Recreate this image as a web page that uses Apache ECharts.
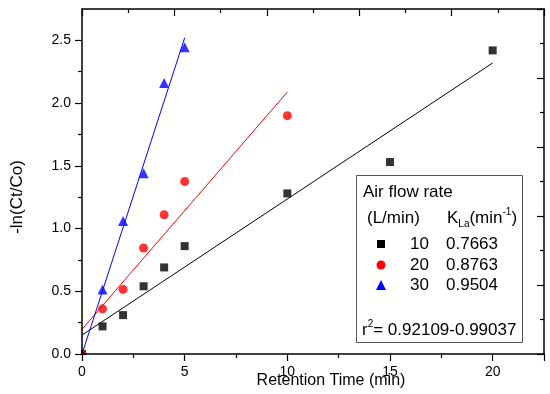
<!DOCTYPE html>
<html><head><meta charset="utf-8">
<script src="https://cdn.jsdelivr.net/npm/echarts@6/dist/echarts.min.js"></script>
<style>html,body{margin:0;padding:0;background:#fff}#c{width:550px;height:394px}</style>
</head><body><div id="c"></div>
<script>
// ---- data ----
const t10 = [0, 1, 2, 3, 4, 5, 10, 15, 20];
const y10 = [0, 0.22, 0.31, 0.54, 0.69, 0.86, 1.28, 1.53, 2.42];
const t20 = [0, 1, 2, 3, 4, 5, 10];
const y20 = [0, 0.36, 0.515, 0.845, 1.11, 1.375, 1.90];
const t30 = [0, 1, 2, 3, 4, 5];
const y30 = [0, 0.515, 1.06, 1.44, 2.16, 2.445];
// fitted lines (endpoints)
const fit10X = [0, 20], fit10Y = [0.151, 2.32];
const fit20X = [0, 10], fit20Y = [0.197, 2.088];
const fit30X = [0, 5], fit30Y = [0.0, 2.52];
// ticks
const xMajor = [0, 5, 10, 15, 20, 22.5];
const xLabels = [0, 5, 10, 15, 20];
const xMinor = [2.5, 7.5, 12.5, 17.5];
const yMajor = [0, 0.5, 1, 1.5, 2, 2.5];
const yMinor = [0.25, 0.75, 1.25, 1.75, 2.25];
// legend texts
const flowRates = ['10', '20', '30'];
const klaValues = ['0.7663', '0.8763', '0.9504'];
const r2Range = '0.92109-0.99037';

const FONT = '"Liberation Sans", Arial, sans-serif';
const pairs = (xs, ys) => xs.map((x, i) => [x, ys[i]]);

const chart = echarts.init(document.getElementById('c'), null, {renderer: 'canvas'});
const mkLine = () => ({show: true, onZero: false, lineStyle: {color: '#000', width: 1.5}});
const noLine = () => ({show: false, onZero: false});
const tickStyle = () => ({color: '#000', width: 1.2});

const option = {
  animation: false,
  backgroundColor: '#fff',
  grid: {left: 82, right: 6, top: 9, bottom: 40, containLabel: false},
  xAxis: [
    {type: 'value', position: 'bottom', min: 0, max: 22.5, z: 10,
     axisLine: mkLine(), splitLine: {show: false},
     axisTick: {show: true, customValues: xMajor, length: 7, inside: false, lineStyle: tickStyle()},
     axisLabel: {customValues: xLabels, fontSize: 14, color: '#000', fontFamily: FONT, margin: 11}},
    {type: 'value', position: 'bottom', min: 0, max: 22.5, z: 10,
     axisLine: noLine(), splitLine: {show: false},
     axisTick: {show: true, customValues: xMinor, length: 4, inside: false, lineStyle: tickStyle()},
     axisLabel: {show: false}},
    {type: 'value', position: 'top', min: 0, max: 25, interval: 5, z: 10,
     axisLine: mkLine(), splitLine: {show: false},
     axisTick: {show: true, length: 7, inside: true, lineStyle: tickStyle()},
     minorTick: {show: true, splitNumber: 2, length: 4, lineStyle: tickStyle()},
     axisLabel: {show: false}}
  ],
  yAxis: [
    {type: 'value', position: 'left', min: 0, max: 2.75, z: 10,
     axisLine: mkLine(), splitLine: {show: false},
     axisTick: {show: true, customValues: yMajor, length: 7, inside: false, lineStyle: tickStyle()},
     axisLabel: {customValues: yMajor, fontSize: 14, color: '#000', fontFamily: FONT, margin: 11,
                 formatter: v => Number(v).toFixed(1)}},
    {type: 'value', position: 'left', min: 0, max: 2.75, z: 10,
     axisLine: noLine(), splitLine: {show: false},
     axisTick: {show: true, customValues: yMinor, length: 4, inside: false, lineStyle: tickStyle()},
     axisLabel: {show: false}},
    {type: 'value', position: 'right', min: 0, max: 10, interval: 2, z: 10,
     axisLine: mkLine(), splitLine: {show: false},
     axisTick: {show: true, length: 7, inside: true, lineStyle: tickStyle()},
     minorTick: {show: true, splitNumber: 2, length: 4, lineStyle: tickStyle()},
     axisLabel: {show: false}}
  ],
  series: [
    {type: 'line', data: pairs(fit10X, fit10Y), showSymbol: false, symbol: 'none',
     lineStyle: {color: '#000', width: 1}, z: 2},
    {type: 'line', data: pairs(fit20X, fit20Y), showSymbol: false, symbol: 'none',
     lineStyle: {color: '#ff0000', width: 1}, z: 2},
    {type: 'line', data: pairs(fit30X, fit30Y), showSymbol: false, symbol: 'none',
     lineStyle: {color: '#0000ff', width: 1}, z: 2},
    {type: 'scatter', name: '10', data: pairs(t10, y10), symbol: 'rect', symbolSize: 8,
     itemStyle: {color: '#000'}, z: 3},
    {type: 'scatter', name: '20', data: pairs(t20, y20), symbol: 'circle', symbolSize: 9,
     itemStyle: {color: '#ff0000'}, z: 3},
    {type: 'scatter', name: '30', data: pairs(t30, y30), symbol: 'triangle', symbolSize: 10,
     itemStyle: {color: '#0000ff'}, z: 3}
  ]
};

// legend / annotation box
const box = {x: 356, y: 175, w: 166, h: 167};
const rowsY = [244, 265, 285];
const markerShapes = ['rect', 'circle', 'triangle'];
const markerColors = ['#000', '#ff0000', '#0000ff'];
const g = [
  // mask outside plot area so markers at the origin look clipped
  {type: 'rect', z: 5, silent: true, shape: {x: 0, y: 0, width: 81, height: 394}, style: {fill: '#fff'}},
  {type: 'rect', z: 5, silent: true, shape: {x: 0, y: 355, width: 550, height: 39}, style: {fill: '#fff'}},
  {type: 'text', z: 20, x: 331, y: 381, style: {text: 'Retention Time (min)', font: '16px ' + FONT,
    fill: '#000', align: 'center', verticalAlign: 'middle'}},
  {type: 'text', z: 20, x: 17, y: 197, rotation: Math.PI / 2, style: {text: '-ln(Ct/Co)', font: '17px ' + FONT,
    fill: '#000', align: 'center', verticalAlign: 'middle'}},
  {type: 'rect', z: 20, shape: {x: box.x + 0.5, y: box.y + 0.5, width: box.w, height: box.h},
   style: {fill: '#fff', stroke: '#555', lineWidth: 1}},
  {type: 'text', z: 21, x: 363, y: 192, style: {text: 'Air flow rate', font: '17px ' + FONT,
    fill: '#000', align: 'left', verticalAlign: 'middle'}},
  {type: 'text', z: 21, x: 367, y: 218, style: {text: '(L/min)', font: '17px ' + FONT,
    fill: '#000', align: 'left', verticalAlign: 'middle'}},
  {type: 'text', z: 21, x: 447, y: 218, style: {
    text: '{a|K}{s|La}{a|(min}{p|-1}{a|)}', align: 'left', verticalAlign: 'middle',
    rich: {
      a: {fontSize: 17, fontFamily: FONT, fill: '#000', lineHeight: 22},
      s: {fontSize: 10, fontFamily: FONT, fill: '#000', lineHeight: 10, verticalAlign: 'bottom'},
      p: {fontSize: 10, fontFamily: FONT, fill: '#000', lineHeight: 10, verticalAlign: 'top'}
    }}},
  {type: 'text', z: 21, x: 362, y: 330, style: {
    text: '{a|r}{p|2}{a|= ' + r2Range + '}', align: 'left', verticalAlign: 'middle',
    rich: {
      a: {fontSize: 17, fontFamily: FONT, fill: '#000', lineHeight: 22},
      p: {fontSize: 10, fontFamily: FONT, fill: '#000', lineHeight: 10, verticalAlign: 'top'}
    }}}
];
flowRates.forEach((f, i) => {
  const cy = rowsY[i];
  if (markerShapes[i] === 'rect') {
    g.push({type: 'rect', z: 21, shape: {x: 377, y: cy - 4, width: 8, height: 8}, style: {fill: markerColors[i]}});
  } else if (markerShapes[i] === 'circle') {
    g.push({type: 'circle', z: 21, shape: {cx: 381, cy: cy, r: 4.5}, style: {fill: markerColors[i]}});
  } else {
    g.push({type: 'polygon', z: 21, shape: {points: [[381, cy - 5], [386, cy + 5], [376, cy + 5]]}, style: {fill: markerColors[i]}});
  }
  g.push({type: 'text', z: 21, x: 410, y: cy, style: {text: f, font: '17px ' + FONT, fill: '#000',
    align: 'left', verticalAlign: 'middle'}});
  g.push({type: 'text', z: 21, x: 446, y: cy, style: {text: klaValues[i], font: '17px ' + FONT, fill: '#000',
    align: 'left', verticalAlign: 'middle'}});
});
option.graphic = g;
chart.setOption(option);
</script>
</body></html>
